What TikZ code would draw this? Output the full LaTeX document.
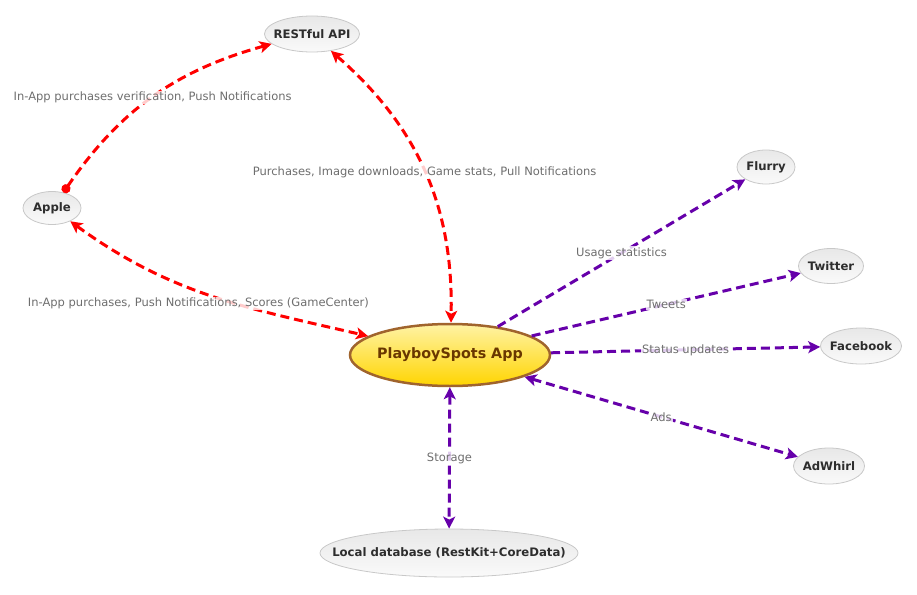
\documentclass[tikz,border=0pt]{standalone}
\usepackage{fontspec}
\setmainfont{DejaVu Sans}
\usetikzlibrary{shapes.geometric,arrows.meta}
\definecolor{edgered}{RGB}{255,0,0}
\definecolor{edgepurple}{RGB}{102,0,170}
\definecolor{labelgray}{RGB}{110,110,110}
\definecolor{servicetext}{RGB}{45,45,45}
\definecolor{serviceborder}{RGB}{200,200,200}
\definecolor{servicetop}{RGB}{232,232,232}
\definecolor{servicebottom}{RGB}{250,250,250}
\definecolor{apptop}{RGB}{255,243,165}
\definecolor{appbottom}{RGB}{255,212,0}
\definecolor{appborder}{RGB}{160,100,45}
\definecolor{apptext}{RGB}{105,55,0}
\newcommand{\flatlabel}[1]{\makebox[0pt][c]{#1}}
\begin{document}
\begin{tikzpicture}[x=1pt,y=-1pt,
  >={Stealth[length=12pt,width=12pt,inset=3pt]},
  service/.style={ellipse,draw=serviceborder,line width=0.8pt,top color=servicetop,bottom color=servicebottom,
    inner sep=0pt,text=servicetext,font=\fontsize{11.7}{13}\selectfont\bfseries},
  mainapp/.style={ellipse,draw=appborder,line width=2.5pt,top color=apptop,bottom color=appbottom,
    inner sep=0pt,text=apptext,font=\fontsize{14.3}{16}\selectfont\bfseries,minimum width=200pt,minimum height=62pt},
  flow/.style={line width=3pt,dash pattern=on 9pt off 5pt},
  redflow/.style={flow,draw=edgered},
  purpleflow/.style={flow,draw=edgepurple},
  flowlabel/.style={midway,fill=white,fill opacity=0.8,text opacity=1,inner sep=1pt,text=labelgray,
    font=\fontsize{11.5}{13}\selectfont}]
\useasboundingbox (0,0) rectangle (917,594);
\node[service,minimum width=95pt,minimum height=36pt] (rest) at (312,34) {\flatlabel{RESTful API}};
\node[service,minimum width=58pt,minimum height=33pt] (apple) at (52,208) {\flatlabel{Apple}};
\node[service,minimum width=58pt,minimum height=34pt] (flurry) at (766,167) {\flatlabel{Flurry}};
\node[service,minimum width=65pt,minimum height=35pt] (twitter) at (831,266) {\flatlabel{Twitter}};
\node[service,minimum width=81pt,minimum height=36pt] (facebook) at (861,346) {\flatlabel{Facebook}};
\node[service,minimum width=71pt,minimum height=36pt] (adwhirl) at (829,466) {\flatlabel{AdWhirl}};
\node[service,minimum width=258pt,minimum height=48pt] (localdb) at (449,553) {\flatlabel{Local database (RestKit+CoreData)}};
\node[mainapp] (app) at (450,355) {\flatlabel{PlayboySpots App}};
\draw[redflow,{Circle[length=9pt]}->] (apple) to[bend left=20]
  node[flowlabel] {In-App purchases verification, Push Notifications} (rest);
\draw[redflow,<->] (rest) to[bend left=25]
  node[flowlabel] {Purchases, Image downloads, Game stats, Pull Notifications} (app);
\draw[redflow,<->] (apple) to[out=-36,in=167]
  node[flowlabel,xshift=-13pt,yshift=-8pt] {In-App purchases, Push Notifications, Scores (GameCenter)} (app);
\draw[purpleflow,->] (app) -- node[flowlabel] {Usage statistics} (flurry);
\draw[purpleflow,->] (app) -- node[flowlabel] {Tweets} (twitter);
\draw[purpleflow,->] (app) -- node[flowlabel] {Status updates} (facebook);
\draw[purpleflow,<->] (app) -- node[flowlabel] {Ads} (adwhirl);
\draw[purpleflow,<->] (app) -- node[flowlabel] {Storage} (localdb);
\end{tikzpicture}
\end{document}
